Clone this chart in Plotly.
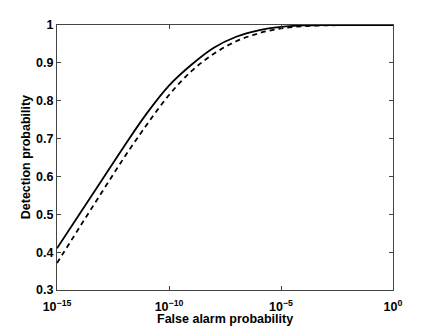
import numpy as np
import plotly.graph_objects as go

# false alarm probability (log decades) and detection probability for the two curves
pfa_exp = [-15, -14, -13, -12, -11, -10, -9, -8, -7, -6, -5, -4, -3, -2, -1, 0]
pd_solid = [0.410, 0.500, 0.590, 0.680, 0.766, 0.840, 0.895, 0.940, 0.969, 0.986,
            0.995, 0.999, 1.0, 1.0, 1.0, 1.0]
pd_dashed = [0.371, 0.465, 0.558, 0.650, 0.736, 0.815, 0.878, 0.924, 0.957, 0.978,
             0.991, 0.997, 0.999, 1.0, 1.0, 1.0]

x_ticks = [1e-15, 1e-10, 1e-5, 1e0]
x_ticktext = ['10<sup>−15</sup>', '10<sup>−10</sup>', '10<sup>−5</sup>', '10<sup>0</sup>']
y_ticks = [0.3, 0.4, 0.5, 0.6, 0.7, 0.8, 0.9, 1.0]
y_ticktext = ['0.3', '0.4', '0.5', '0.6', '0.7', '0.8', '0.9', '1']

pfa = [10.0 ** e for e in pfa_exp]

fig = go.Figure()
fig.add_trace(go.Scatter(x=pfa, y=pd_solid, mode='lines',
                         line=dict(color='black', width=1.8, shape='spline', smoothing=1)))
fig.add_trace(go.Scatter(x=pfa, y=pd_dashed, mode='lines',
                         line=dict(color='black', width=1.8, dash='5px,4px',
                                   shape='spline', smoothing=1)))

axis_font = dict(family='Liberation Sans, Arial, sans-serif', size=12.5, color='black', weight='bold')

fig.update_xaxes(type='log', range=[-15, 0], tickvals=x_ticks, ticktext=x_ticktext,
                 ticks='inside', ticklen=4, tickcolor='#444', showline=True, linecolor='#444',
                 linewidth=1, mirror='ticks', showgrid=False, zeroline=False,
                 tickfont=axis_font, automargin=False, ticklabelstandoff=5)
fig.update_yaxes(range=[0.3, 1.0], tickvals=y_ticks, ticktext=y_ticktext,
                 ticks='inside', ticklen=4, tickcolor='#444', showline=True, linecolor='#444',
                 linewidth=1, mirror='ticks', showgrid=False, zeroline=False,
                 tickfont=axis_font, automargin=False)

# axis titles placed by hand, MATLAB style
fig.add_annotation(text='False alarm probability', xref='paper', yref='paper',
                   x=0.5, y=-0.11, xanchor='center', yanchor='middle',
                   showarrow=False, font=axis_font)
fig.add_annotation(text='Detection probability', xref='paper', yref='paper',
                   x=-0.093, y=0.5, xanchor='center', yanchor='middle', textangle=-90,
                   showarrow=False, font=axis_font)

# page body adds 8px offset, so the figure is a bit smaller than the window
fig.update_layout(width=428, height=319, showlegend=False,
                  plot_bgcolor='white', paper_bgcolor='white',
                  margin=dict(l=49, r=43, t=17, b=37))

fig.write_html("out.html")
